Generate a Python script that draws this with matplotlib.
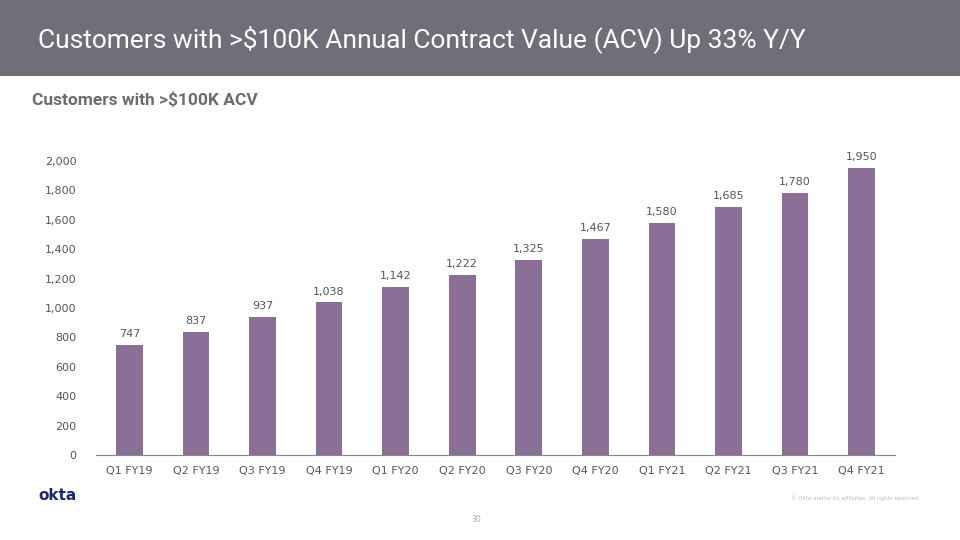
import matplotlib.pyplot as plt
from matplotlib.patches import Rectangle

quarters = ["Q1 FY19", "Q2 FY19", "Q3 FY19", "Q4 FY19", "Q1 FY20", "Q2 FY20",
            "Q3 FY20", "Q4 FY20", "Q1 FY21", "Q2 FY21", "Q3 FY21", "Q4 FY21"]
customers = [747, 837, 937, 1038, 1142, 1222, 1325, 1467, 1580, 1685, 1780, 1950]
yticks = [0, 200, 400, 600, 800, 1000, 1200, 1400, 1600, 1800, 2000]

W, H = 960, 540
fig = plt.figure(figsize=(9.6, 5.4), dpi=100)
fig.patch.set_facecolor("white")

# grey header band
fig.patches.append(Rectangle((0, 1 - 76 / H), 1, 76 / H, transform=fig.transFigure,
                             facecolor="#6f6f79", edgecolor="none"))
narrow = ["Roboto", "DejaVu Sans"]
fig.text(38 / W, 1 - 39 / H, "Customers with >$100K Annual Contract Value (ACV) Up 33% Y/Y",
         color="white", fontsize=19, family=narrow, va="center", ha="left")
fig.text(32 / W, 1 - 100 / H, "Customers with >$100K ACV", color="#6b6b75",
         fontsize=12.5, fontweight="bold", family=narrow, va="center", ha="left")

# chart
ax = fig.add_axes([96 / W, (H - 455) / H, (895 - 96) / W, (455 - 161) / H])
x = range(len(quarters))
bars = ax.bar(x, customers, width=0.4, color="#8a6f96")
for xi, v in zip(x, customers):
    ax.text(xi, v + 40, f"{v:,}", ha="center", va="bottom", fontsize=8, color="#555555")
ax.set_xlim(-0.5, len(quarters) - 0.5)
ax.set_ylim(0, 2000)
ax.set_yticks(yticks)
ax.set_yticklabels([f"{t:,}" for t in yticks])
ax.set_xticks(list(x))
ax.set_xticklabels(quarters)
for s in ["top", "right", "left"]:
    ax.spines[s].set_visible(False)
ax.spines["bottom"].set_color("#888888")
ax.tick_params(axis="both", length=0, labelsize=8, labelcolor="#555555")
ax.tick_params(axis="y", pad=14)
ax.tick_params(axis="x", pad=8)

# footer
fig.text(38 / W, 1 - 496 / H, "okta", color="#1b2a6b", fontsize=11, fontweight="bold",
         va="center", ha="left")
fig.text(920 / W, 1 - 498 / H, "\u00a9 Okta and/or its affiliates. All rights reserved.",
         color="#bbbbbb", fontsize=4, va="center", ha="right")
fig.text(476 / W, 1 - 519 / H, "30", color="#aaaaaa", fontsize=5.5, va="center", ha="center")

fig.savefig("out.png", dpi=100)
